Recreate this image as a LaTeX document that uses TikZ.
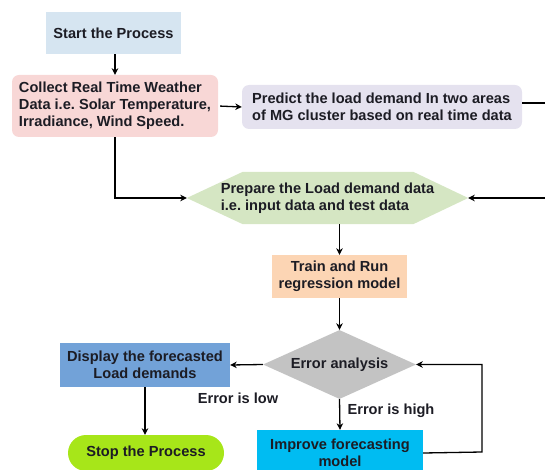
\documentclass[tikz,border=0pt]{standalone}
\usepackage{fontspec}
\setmainfont{Liberation Sans}
\frenchspacing
\usetikzlibrary{shapes.geometric,arrows.meta,backgrounds}
\definecolor{startblue}{HTML}{D6E5F1}
\definecolor{collectpink}{HTML}{F8D7D6}
\definecolor{predictlav}{HTML}{E5E2EF}
\definecolor{hexgreen}{HTML}{D5E6C3}
\definecolor{trainpeach}{HTML}{FCD5B4}
\definecolor{diagray}{HTML}{C3C3C3}
\definecolor{dispblue}{HTML}{72A2D8}
\definecolor{impcyan}{HTML}{00BCF2}
\definecolor{stopgreen}{HTML}{A7E619}
\definecolor{txt}{HTML}{1C1C24}
\tikzset{
  lbl/.style={font=\fontsize{14.6}{17}\selectfont\bfseries, text=txt},
  boxnode/.style={lbl, rectangle, inner sep=0pt, align=center},
  arr/.style={line width=1.3pt, -{Stealth[length=6.5pt,width=6.5pt,inset=2pt]}},
  ln/.style={line width=1.3pt}
}
\begin{document}
\begin{tikzpicture}[x=1pt,y=-1pt]
\useasboundingbox (0,0) rectangle (545,470);
% nodes
\node[boxnode, fill=startblue, minimum width=135pt, minimum height=42pt] (start) at (113.5,33) {Start the Process};
\node[boxnode, fill=collectpink, rounded corners=7pt, minimum width=206pt, minimum height=62pt, align=left] (collect) at (115,106) {Collect Real Time Weather\\Data i.e. Solar Temperature,\\Irradiance, Wind Speed.};
\node[boxnode, fill=predictlav, rounded corners=7pt, minimum width=280pt, minimum height=44pt, align=left] (predict) at (382,107) {Predict the load demand In two areas\\of MG cluster based on real time data};
\node[boxnode, minimum width=281pt, minimum height=52pt, align=left] (hex) at (327.5,198) {Prepare the Load demand data\\i.e. input data and test data};
\begin{scope}[on background layer]
\fill[hexgreen] (hex.west) -- ([xshift=56pt]hex.north west) -- ([xshift=-55pt]hex.north east) -- (hex.east) -- ([xshift=-55pt]hex.south east) -- ([xshift=56pt]hex.south west) -- cycle;
\end{scope}
\node[boxnode, fill=trainpeach, minimum width=135pt, minimum height=43pt] (train) at (339.5,276.5) {Train and Run\\regression model};
\node[lbl, diamond, aspect=2.2, fill=diagray, inner sep=0pt, minimum width=153pt, minimum height=69pt] (err) at (339.5,364.5) {Error analysis};
\node[boxnode, fill=dispblue, minimum width=170pt, minimum height=44pt] (disp) at (145,365) {Display the forecasted\\Load demands};
\node[boxnode, fill=impcyan, minimum width=166pt, minimum height=46pt] (imp) at (340,453) {Improve forecasting\\model};
\node[boxnode, fill=stopgreen, rounded corners=18pt, minimum width=156pt, minimum height=36pt] (stop) at (146,453) {Stop the Process};
\node[lbl] (low) at (238,398) {Error is low};
\node[lbl] (high) at (391,411) {Error is high};
% connectors
\coordinate (r1) at (560,103);
\coordinate (r2) at (560,198);
\coordinate (f1) at (482,452);
\coordinate (f2) at (482,364.5);
\draw[arr] (start.south -| collect.north) -- (collect.north);
\draw[arr, shorten <=2pt] (collect.east) -- (predict.west);
\draw[arr] ([yshift=4pt]predict.east) -- (r1) -- (r2) -- (hex.east);
\draw[arr] (collect.south) -- (collect.south |- hex.west) -- (hex.west);
\draw[arr] (hex.south -| train.north) -- (train.north);
\draw[arr] (train.south) -- (err.north);
\draw[arr] (err.west) -- (disp.east);
\draw[arr] (err.south) -- (imp.north);
\draw[arr] (imp.east) -- (f1) -- (f2) -- (err.east);
\draw[arr] (disp.south) -- (disp.south |- stop.north);
\end{tikzpicture}
\end{document}
